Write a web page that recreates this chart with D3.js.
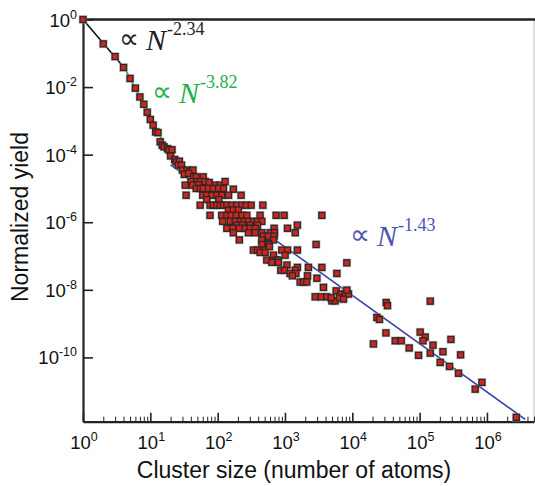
<!DOCTYPE html>
<html lang="en">
  <head>
    <meta charset="UTF-8">
    <title>Cluster yield</title>
    <script src="https://d3js.org/d3.v7.min.js"></script>
    <style>
      body { margin: 0; background: #fff; }
      svg { display: block; }
      .lbl { font-family: "Liberation Sans", Arial, sans-serif; fill: #111; }
      .fit { font-family: "Liberation Serif", "Times New Roman", serif; }
    </style>
  </head>
  <body>
    <script>
      // cluster size N and normalized yield
      const clusterSize = [
        1, 2, 3, 4, 5, 6, 7, 8, 9, 10, 11, 12, 13, 14, 15, 16, 18, 19, 21,
        20, 23, 24, 27, 26, 29, 30, 35, 39, 43, 32, 37, 44, 48, 61,
        40, 49, 55, 65, 75, 92, 109, 129, 33, 42, 52,
        48, 55, 61, 73, 86, 103, 122, 171,
        60, 69, 82, 97, 115, 145, 223, 34, 69, 104,
        55, 77, 86, 97, 109, 122, 137, 162, 192, 229, 265, 314, 469,
        145, 171, 203,
        77, 115, 137, 158, 188, 229, 271, 427, 739, 972, 3530,
        119, 153, 182, 216, 247, 287, 340, 390, 453,
        192, 233, 303, 390, 1530,
        137, 168, 210, 256, 303, 360, 690, 1090,
        171, 287, 360, 453, 601, 697, 1420,
        478, 568, 690,
        210, 453, 674, 568,
        453, 568, 2900, 587,
        340, 390, 478, 898, 1090, 1530,
        427, 507, 674, 1005,
        537, 739, 783, 638, 800, 1070,
        1530, 2230, 3530, 867, 982, 1420,
        1190, 1450, 5900, 1290, 2160, 2980,
        1680, 1880, 2110, 3730, 5760,
        2810, 3440, 4190, 4970, 5570,
        8300, 6760, 7830, 8770, 8300, 6450, 7400, 4850,
        31900, 33300, 144000, 23200, 25300, 31600, 20600,
        43400, 53300, 70000, 102000, 121000, 112000, 158000,
        96400, 144000, 222000, 292000, 406000, 202000, 278000,
        378000, 843000, 670000, 2730000
      ];
      const normYield = [
        1, 0.19, 0.080, 0.038, 0.018, 0.0093, 0.0051, 0.0031, 0.0018, 0.0011, 7.5e-4, 4.7e-4, 4.5e-4, 2.4e-4, 1.9e-4, 1.7e-4, 1.5e-4, 1.36e-4, 1.4e-4,
        9.2e-5, 7.2e-5, 6.1e-5, 6.4e-5, 4.9e-5, 4.9e-5, 3.5e-5, 3.5e-5, 3.2e-5, 3.5e-5, 2.6e-5, 2.8e-5, 2.2e-5, 2.2e-5, 2.2e-5,
        1.6e-5, 1.6e-5, 1.6e-5, 1.6e-5, 1.5e-5, 1.25e-5, 1.25e-5, 1.6e-5, 1.25e-5, 1.25e-5, 1.3e-5,
        1.0e-5, 1.0e-5, 1.0e-5, 1.0e-5, 1.0e-5, 1.0e-5, 1.0e-5, 9.5e-6,
        6.3e-6, 6.3e-6, 6.3e-6, 6.3e-6, 6.3e-6, 6.3e-6, 6.3e-6, 6.3e-6, 4.7e-6, 4.7e-6,
        3.2e-6, 3.2e-6, 3.2e-6, 3.2e-6, 3.2e-6, 3.2e-6, 3.2e-6, 3.2e-6, 3.2e-6, 3.2e-6, 3.2e-6, 3.2e-6, 3.2e-6,
        2.3e-6, 2.3e-6, 2.3e-6,
        1.6e-6, 1.6e-6, 1.6e-6, 1.6e-6, 1.6e-6, 1.6e-6, 1.6e-6, 1.6e-6, 1.6e-6, 1.6e-6, 1.6e-6,
        1.06e-6, 1.06e-6, 1.06e-6, 1.06e-6, 1.06e-6, 1.06e-6, 1.06e-6, 1.06e-6, 1.06e-6,
        8.2e-7, 8.2e-7, 8.2e-7, 8.2e-7, 8.2e-7,
        6.6e-7, 6.6e-7, 6.6e-7, 6.6e-7, 6.6e-7, 6.6e-7, 6.6e-7, 6.6e-7,
        4.9e-7, 4.9e-7, 4.9e-7, 4.9e-7, 4.9e-7, 4.9e-7, 4.9e-7,
        3.9e-7, 3.9e-7, 3.9e-7,
        3.0e-7, 3.0e-7, 3.0e-7, 2.4e-7,
        2.2e-7, 2.2e-7, 2.2e-7, 1.9e-7,
        1.5e-7, 1.5e-7, 1.5e-7, 1.5e-7, 1.5e-7, 1.5e-7,
        1.28e-7, 1.28e-7, 1.06e-7, 1.06e-7,
        7.6e-8, 7.6e-8, 7.6e-8, 6.5e-8, 6.5e-8, 5.4e-8,
        4.6e-8, 4.6e-8, 4.6e-8, 3.8e-8, 3.8e-8, 3.8e-8,
        3.05e-8, 3.05e-8, 3.05e-8, 2.6e-8, 2.6e-8, 2.2e-8,
        1.7e-8, 1.7e-8, 1.7e-8, 1.18e-8, 9.3e-9,
        6.2e-9, 6.2e-9, 6.2e-9, 4.7e-9, 4.7e-9,
        6.3e-8, 7.5e-9, 7.5e-9, 7.5e-9, 9.8e-9, 5.8e-9, 5.3e-9, 5.8e-9,
        4.2e-9, 3.4e-9, 4.6e-9, 1.52e-9, 1.33e-9, 5.3e-10, 2.5e-10,
        3.1e-10, 3.1e-10, 1.9e-10, 5.6e-10, 4.0e-10, 3.1e-10, 2.3e-10,
        1.15e-10, 1.34e-10, 1.47e-10, 3.4e-10, 1.19e-10, 7.1e-11, 5.4e-11,
        3.4e-11, 1.82e-11, 1.15e-11, 1.68e-12
      ];

      // power law fits: prefactor, exponent, range of N
      const fitExponent = [-2.34, -3.82, -1.43];
      const fitPrefactor = [1, 8.5, 3.6e-3];
      const fitRange = [[1, 4], [4, 17], [20, 3.7e6]];
      const fitColor = ["#111111", "#1fa84a", "#3a44a8"];

      const xDecades = [0, 1, 2, 3, 4, 5, 6];
      const yDecades = [0, -2, -4, -6, -8, -10];

      const W = 535, H = 486;
      const mLeft = 83, mRight = 534, mTop = 19.5, mBottom = 421.7;

      const svg = d3.select("body").append("svg")
        .attr("width", W)
        .attr("height", H);

      const x = d3.scaleLog().domain([1, 5e6]).range([mLeft, mRight]);
      const y = d3.scaleLog().domain([1, 1.25e-12]).range([mTop, mBottom]);

      // frame
      svg.append("line")
        .attr("x1", mRight).attr("x2", mRight).attr("y1", mTop).attr("y2", mBottom)
        .attr("stroke", "#c8c8c8").attr("stroke-width", 1.2);
      svg.append("line")
        .attr("x1", mLeft).attr("x2", W).attr("y1", mTop).attr("y2", mTop)
        .attr("stroke", "#222").attr("stroke-width", 2.6);

      // minor x ticks
      const minor = [];
      for (let d = 0; d < 7; d++) {
        for (let k = 2; k <= 9; k++) {
          const v = k * Math.pow(10, d);
          if (v <= 5e6) minor.push(v);
        }
      }
      svg.append("g")
        .attr("transform", `translate(0,${mBottom})`)
        .call(d3.axisBottom(x).tickValues(minor).tickSize(-5).tickFormat(""))
        .call(g => g.select(".domain").remove())
        .selectAll("line").attr("stroke", "#222").attr("stroke-width", 1);

      svg.append("g")
        .attr("transform", `translate(0,${mBottom})`)
        .call(d3.axisBottom(x).tickValues(xDecades.map(d => Math.pow(10, d))).tickSize(-9).tickSizeOuter(0).tickFormat(""))
        .call(g => g.select(".domain").attr("stroke", "#222").attr("stroke-width", 2.2))
        .selectAll("line").attr("stroke", "#222").attr("stroke-width", 1.6);

      svg.append("g")
        .attr("transform", `translate(${mLeft},0)`)
        .call(d3.axisLeft(y).tickValues(yDecades.map(d => Math.pow(10, d))).tickSize(-10).tickSizeOuter(0).tickFormat(""))
        .call(g => g.select(".domain").attr("stroke", "#222").attr("stroke-width", 2.2))
        .selectAll("line").attr("stroke", "#222").attr("stroke-width", 1.6);

      // tick labels with superscripts
      function powerLabel(sel, e) {
        sel.append("tspan").text("10");
        sel.append("tspan").attr("dy", -8).attr("font-size", 12.5).text(e);
      }
      xDecades.forEach(d => {
        svg.append("text").attr("class", "lbl")
          .attr("x", x(Math.pow(10, d)) + 1).attr("y", 449)
          .attr("text-anchor", "middle").attr("font-size", 18.5)
          .call(powerLabel, d);
      });
      yDecades.forEach(d => {
        svg.append("text").attr("class", "lbl")
          .attr("x", 77).attr("y", y(Math.pow(10, d)) + 7)
          .attr("text-anchor", "end").attr("font-size", 18.5)
          .call(powerLabel, d);
      });

      // axis titles
      svg.append("text").attr("class", "lbl")
        .attr("x", 294).attr("y", 478)
        .attr("text-anchor", "middle").attr("font-size", 23)
        .text("Cluster size (number of atoms)");
      svg.append("text").attr("class", "lbl")
        .attr("transform", "translate(28,217) rotate(-90)")
        .attr("text-anchor", "middle").attr("font-size", 23)
        .text("Normalized yield");

      // fit lines
      const line = d3.line().x(d => x(d[0])).y(d => y(d[1]));
      fitExponent.forEach((p, i) => {
        const pts = fitRange[i].map(n => [n, fitPrefactor[i] * Math.pow(n, p)]);
        svg.append("path")
          .attr("d", line(pts))
          .attr("fill", "none")
          .attr("stroke", fitColor[i])
          .attr("stroke-width", 1.6);
      });

      // data points
      const pts = d3.zip(clusterSize, normYield);
      const s = 7;
      const g = svg.append("g");
      g.selectAll("rect.halo").data(pts).join("rect")
        .attr("class", "halo")
        .attr("x", d => x(d[0]) - s / 2 - 0.8)
        .attr("y", d => y(d[1]) - s / 2 - 0.8)
        .attr("width", s + 1.6).attr("height", s + 1.6)
        .attr("fill", "#9a9a9a").attr("opacity", 0.6);
      g.selectAll("rect.pt").data(pts).join("rect")
        .attr("class", "pt")
        .attr("x", d => x(d[0]) - s / 2 + 0.5)
        .attr("y", d => y(d[1]) - s / 2 + 0.5)
        .attr("width", s - 1).attr("height", s - 1)
        .attr("fill", "#d2241c")
        .attr("stroke", "#2a2a2a").attr("stroke-width", 1.3);

      // fit annotations
      const notes = [
        { x: 119, y: 50, color: "#222", txt: "-2.34" },
        { x: 152, y: 103, color: "#22b04a", txt: "-3.82" },
        { x: 350, y: 246, color: "#4b54b2", txt: "-1.43" }
      ];
      notes.forEach(n => {
        const t = svg.append("text").attr("class", "fit")
          .attr("x", n.x).attr("y", n.y).attr("fill", n.color);
        t.append("tspan").attr("font-size", 28).attr("font-family", "DejaVu Sans").attr("dy", -2).text("\u221D");
        t.append("tspan").attr("font-size", 30).attr("font-style", "italic").attr("dx", 7).attr("dy", 2).text("N");
        t.append("tspan").attr("font-size", 18).attr("dx", 1).attr("dy", -15).text(n.txt);
      });
    </script>
  </body>
</html>
